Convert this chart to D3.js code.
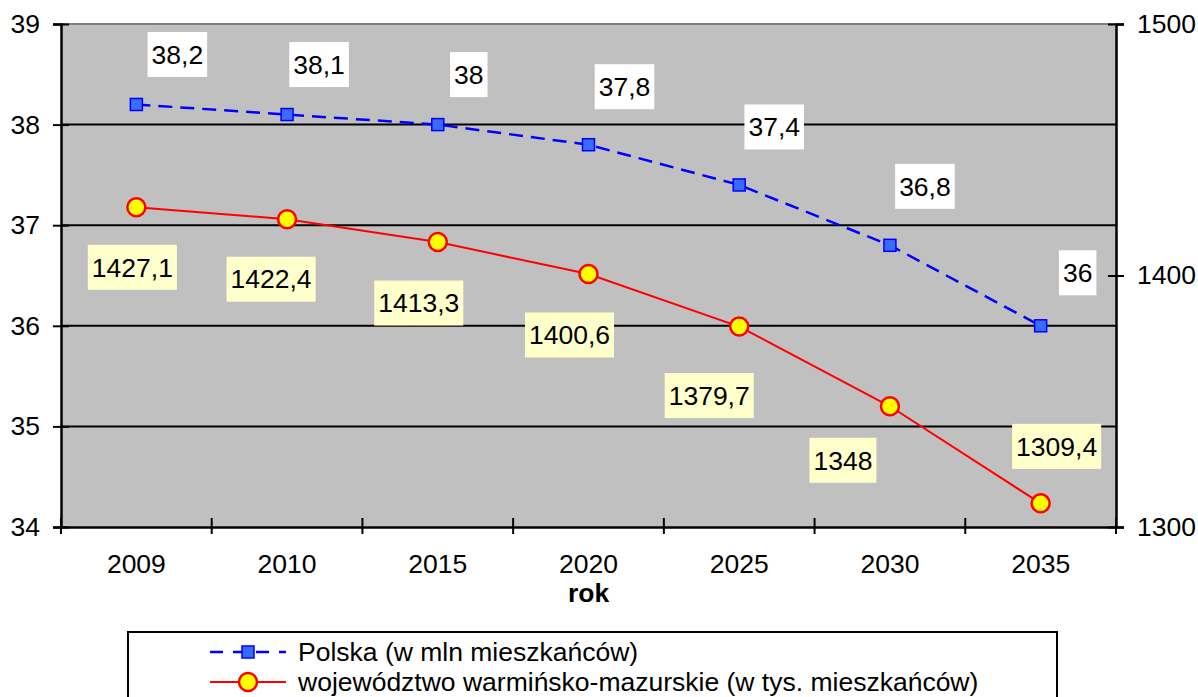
<!DOCTYPE html>
<html>
<head>
<meta charset="utf-8">
<script src="https://cdn.jsdelivr.net/npm/d3@7/dist/d3.min.js"></script>
<style>
  html, body { margin: 0; padding: 0; background: #fff; }
  svg { display: block; font-family: "Liberation Sans", Arial, sans-serif; }
</style>
</head>
<body>
<svg id="chart" width="1198" height="697"></svg>
<script>
// Population forecast: Poland (millions) vs. Warmian-Masurian voivodeship (thousands)
const years = ["2009", "2010", "2015", "2020", "2025", "2030", "2035"];
const polska = [38.2, 38.1, 38, 37.8, 37.4, 36.8, 36];
const warmia = [1427.1, 1422.4, 1413.3, 1400.6, 1379.7, 1348, 1309.4];
const leftTicks = [34, 35, 36, 37, 38, 39];
const rightTicks = [1300, 1400, 1500];
const seriesNames = [
  "Polska (w mln mieszkańców)",
  "województwo warmińsko-mazurskie (w tys. mieszkańców)"
];
const xTitle = "rok";

// label placement relative to each point (dx, dy of the label box centre)
const polskaLabelOffset = [[41, -50], [32, -50], [31, -50], [36, -58], [35, -58], [35, -59], [37, -53]];
const warmiaLabelOffset = [[-4, 60], [-16, 60], [-19, 61], [-19, 61], [-30, 69], [-47, 54], [16, -57]];

const fmt = v => String(v).replace(".", ",");

const svg = d3.select("#chart");
const plot = { left: 61, right: 1116, top: 24, bottom: 527 };
const FS = 26.5;
const FONT = "Liberation Sans, Arial, sans-serif";

const x = d3.scaleBand().domain(years).range([plot.left, plot.right]).padding(0);
const cx = d => x(d) + x.bandwidth() / 2;
const yL = d3.scaleLinear().domain([34, 39]).range([plot.bottom, plot.top]);
const yR = d3.scaleLinear().domain([1300, 1500]).range([plot.bottom, plot.top]);

// plot background
svg.append("rect")
  .attr("x", plot.left).attr("y", plot.top)
  .attr("width", plot.right - plot.left).attr("height", plot.bottom - plot.top)
  .attr("fill", "#c0c0c0");

// top border
svg.append("line")
  .attr("x1", plot.left).attr("x2", plot.right)
  .attr("y1", plot.top).attr("y2", plot.top)
  .attr("stroke", "#808080").attr("stroke-width", 2);

// gridlines
svg.append("g").selectAll("line")
  .data(leftTicks.filter(t => t > 34 && t < 39))
  .join("line")
  .attr("x1", plot.left).attr("x2", plot.right)
  .attr("y1", d => yL(d)).attr("y2", d => yL(d))
  .attr("stroke", "#000").attr("stroke-width", 2);

// left axis
const gL = svg.append("g").attr("transform", `translate(${plot.left},0)`)
  .call(d3.axisLeft(yL).tickValues(leftTicks).tickFormat(d3.format("d")).tickSize(8).tickPadding(13));
gL.select(".domain").attr("stroke-width", 2.5);
gL.selectAll(".tick line").attr("stroke-width", 2).attr("x2", 8).attr("x1", -8);
gL.selectAll(".tick text").attr("font-size", FS).attr("font-family", FONT).attr("fill", "#000");

// right axis
const gR = svg.append("g").attr("transform", `translate(${plot.right},0)`)
  .call(d3.axisRight(yR).tickValues(rightTicks).tickFormat(d3.format("d")).tickSize(8).tickPadding(13));
gR.select(".domain").attr("stroke-width", 2.5);
gR.selectAll(".tick line").attr("stroke-width", 2).attr("x1", -8).attr("x2", 8);
gR.selectAll(".tick text").attr("font-size", FS).attr("font-family", FONT).attr("fill", "#000");

// bottom axis: ticks between categories
const gB = svg.append("g").attr("transform", `translate(0,${plot.bottom})`)
  .call(d3.axisBottom(x).tickSize(0).tickPadding(27));
gB.select(".domain").attr("stroke-width", 2.5);
gB.selectAll(".tick text").attr("font-size", FS).attr("font-family", FONT).attr("fill", "#000");
const boundaries = years.map(d => x(d)).concat([x(years[years.length - 1]) + x.bandwidth()]);
gB.append("g").selectAll("line").data(boundaries).join("line")
  .attr("x1", d => d).attr("x2", d => d)
  .attr("y1", -9).attr("y2", 7)
  .attr("stroke", "#000").attr("stroke-width", 2);

// x title
svg.append("text")
  .attr("x", x(years[3]) + x.bandwidth() / 2).attr("y", 602)
  .attr("text-anchor", "middle").attr("font-size", FS).attr("font-weight", "bold")
  .text(xTitle);

// Warmia series (right axis)
const wPts = warmia.map((v, i) => ({ x: cx(years[i]), y: yR(v), v, i }));
svg.append("path")
  .attr("d", d3.line().x(d => d.x).y(d => d.y)(wPts))
  .attr("fill", "none").attr("stroke", "#ff0000").attr("stroke-width", 2);

// Polska series (left axis)
const pPts = polska.map((v, i) => ({ x: cx(years[i]), y: yL(v), v, i }));
svg.append("path")
  .attr("d", d3.line().x(d => d.x).y(d => d.y)(pPts))
  .attr("fill", "none").attr("stroke", "#0000ff").attr("stroke-width", 2.5)
  .attr("stroke-dasharray", "14,8");

svg.append("g").selectAll("circle").data(wPts).join("circle")
  .attr("cx", d => d.x).attr("cy", d => d.y).attr("r", 9)
  .attr("fill", "#ffff00").attr("stroke", "#ff0000").attr("stroke-width", 2.5);

svg.append("g").selectAll("rect").data(pPts).join("rect")
  .attr("x", d => d.x - 6).attr("y", d => d.y - 6).attr("width", 12).attr("height", 12)
  .attr("fill", "#3a6bff").attr("stroke", "#0000ff").attr("stroke-width", 1.5);

// data labels
function labels(pts, offs, bg) {
  const g = svg.append("g");
  pts.forEach(d => {
    const [dx, dy] = offs[d.i];
    const lx = d.x + dx, ly = d.y + dy;
    const grp = g.append("g");
    const t = grp.append("text")
      .attr("x", lx).attr("y", ly).attr("dy", "0.35em")
      .attr("text-anchor", "middle").attr("font-size", FS)
      .text(fmt(d.v));
    const w = t.node().getComputedTextLength() + 8;
    grp.insert("rect", "text")
      .attr("x", lx - w / 2).attr("y", ly - 22.5)
      .attr("width", w).attr("height", 45)
      .attr("fill", bg);
  });
}
labels(pPts, polskaLabelOffset, "#ffffff");
labels(wPts, warmiaLabelOffset, "#ffffcc");

// legend
const lg = svg.append("g");
lg.append("rect")
  .attr("x", 128).attr("y", 632).attr("width", 929).attr("height", 80)
  .attr("fill", "#fff").attr("stroke", "#000").attr("stroke-width", 2);
const rows = [652, 682];
lg.append("line").attr("x1", 210).attr("x2", 286).attr("y1", rows[0]).attr("y2", rows[0])
  .attr("stroke", "#0000ff").attr("stroke-width", 2.5).attr("stroke-dasharray", "13,10");
lg.append("rect").attr("x", 242).attr("y", rows[0] - 6).attr("width", 12).attr("height", 12)
  .attr("fill", "#3a6bff").attr("stroke", "#0000ff").attr("stroke-width", 1.5);
lg.append("line").attr("x1", 210).attr("x2", 286).attr("y1", rows[1]).attr("y2", rows[1])
  .attr("stroke", "#ff0000").attr("stroke-width", 2);
lg.append("circle").attr("cx", 248).attr("cy", rows[1]).attr("r", 9)
  .attr("fill", "#ffff00").attr("stroke", "#ff0000").attr("stroke-width", 2.5);
lg.selectAll("text.lt").data(seriesNames).join("text")
  .attr("class", "lt")
  .attr("x", 298).attr("y", (d, i) => rows[i]).attr("dy", "0.35em")
  .attr("font-size", FS)
  .text(d => d);
</script>
</body>
</html>
